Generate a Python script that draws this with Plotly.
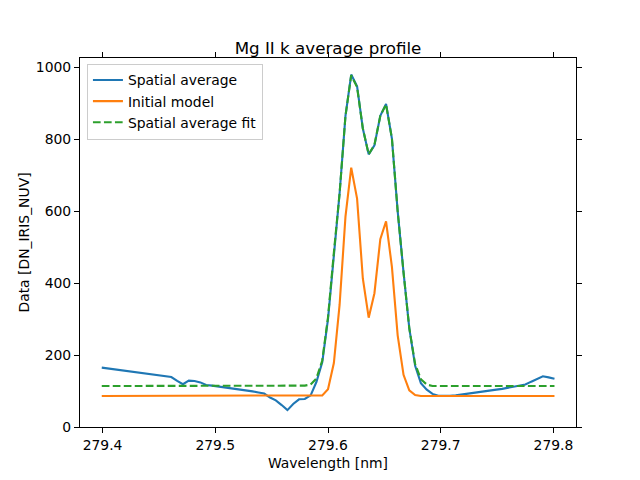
import plotly.graph_objects as go

wavelength = [
    279.3993, 279.4044, 279.4096, 279.4147, 279.4199, 279.4250, 279.4301, 279.4353,
    279.4404, 279.4456, 279.4507, 279.4559, 279.4610, 279.4662, 279.4713, 279.4765,
    279.4816, 279.4868, 279.4919, 279.4971, 279.5022, 279.5074, 279.5125, 279.5177,
    279.5228, 279.5280, 279.5331, 279.5383, 279.5434, 279.5486, 279.5537, 279.5589,
    279.5640, 279.5691, 279.5743, 279.5794, 279.5846, 279.5897, 279.5949, 279.6000,
    279.6052, 279.6103, 279.6155, 279.6206, 279.6258, 279.6309, 279.6361, 279.6412,
    279.6464, 279.6515, 279.6567, 279.6618, 279.6670, 279.6721, 279.6773, 279.6824,
    279.6876, 279.6927, 279.6979, 279.7030, 279.7082, 279.7133, 279.7185, 279.7236,
    279.7288, 279.7339, 279.7391, 279.7442, 279.7494, 279.7545, 279.7597, 279.7648,
    279.7700, 279.7751, 279.7803, 279.7854, 279.7906, 279.7957, 279.8009,
]

spatial_average = [
    165, 163, 161, 159, 157, 155, 153, 151,
    148, 146, 144, 141, 139, 128, 119, 129,
    128, 124, 117, 115, 113, 111, 109, 107,
    104, 102, 99, 96, 93, 82, 74, 61,
    47, 64, 77, 78, 88, 125, 180, 300,
    480, 650, 865, 980, 947, 830, 758, 783,
    865, 898, 802, 600, 430, 275, 170, 122,
    104, 92, 87, 86, 87, 88, 90, 92,
    95, 97, 99, 102, 104, 106, 109, 112,
    114, 118, 126, 134, 141, 138, 134,
]

initial_model = [
    86, 86, 86, 86, 86, 86, 86, 86,
    86, 86, 86, 86, 86, 86, 86, 86,
    86, 86, 86, 86, 86, 86, 86, 86,
    86, 86, 86, 86, 86, 86, 86, 86,
    86, 86, 86, 86, 86, 86, 88, 105,
    178, 340, 585, 721, 635, 413, 304, 372,
    522, 572, 445, 255, 145, 102, 89, 86,
    86, 86, 86, 86, 86, 86, 86, 86,
    86, 86, 86, 86, 86, 86, 86, 86,
    86, 86, 86, 86, 86, 86, 86,
]

spatial_average_fit = [
    114, 114, 114, 114, 114, 114, 114, 114,
    114, 114, 114, 114, 114, 114, 114, 114,
    114, 114, 114, 114, 114, 114, 114, 114,
    114, 114, 114, 114, 114, 114, 114, 114,
    114, 114, 114, 115, 118, 135, 185, 305,
    485, 650, 865, 978, 945, 830, 758, 785,
    865, 897, 802, 600, 430, 275, 175, 133,
    118, 114, 114, 114, 114, 114, 114, 114,
    114, 114, 114, 114, 114, 114, 114, 114,
    114, 114, 114, 114, 114, 114, 114,
]

x_ticks = [279.4, 279.5, 279.6, 279.7, 279.8]
y_ticks = [0, 200, 400, 600, 800, 1000]

FONT = "DejaVu Sans"

fig = go.Figure()
fig.add_trace(go.Scatter(x=wavelength, y=spatial_average, mode="lines",
                         name="Spatial average",
                         line=dict(color="#1f77b4", width=2.1)))
fig.add_trace(go.Scatter(x=wavelength, y=initial_model, mode="lines",
                         name="Initial model",
                         line=dict(color="#ff7f0e", width=2.1)))
fig.add_trace(go.Scatter(x=wavelength, y=spatial_average_fit, mode="lines",
                         name="Spatial average fit",
                         line=dict(color="#2ca02c", width=2.1, dash="7.7px,3.3px")))

axis_common = dict(
    showline=True, linecolor="black", linewidth=1.1, mirror="ticks",
    ticks="outside", ticklen=5, tickwidth=1.1, tickcolor="black",
    showgrid=False, zeroline=False,
    tickfont=dict(family=FONT, size=13.9, color="black"),
)

fig.update_layout(
    width=640, height=480,
    margin=dict(l=80, r=64, t=57.6, b=52.8),
    paper_bgcolor="white", plot_bgcolor="white",
    font=dict(family=FONT, size=13.9, color="black"),
    title=dict(text="Mg II k average profile", x=0.5, xanchor="center",
               xref="paper", yref="container", y=1 - 54 / 480, yanchor="bottom",
               font=dict(family=FONT, size=16.7, color="black")),
    xaxis=dict(range=[279.38, 279.82], tickvals=x_ticks,
               ticktext=[f"{v:.1f}" for v in x_ticks],
               title=dict(text="Wavelength [nm]", standoff=6,
                          font=dict(family=FONT, size=13.9)),
               **axis_common),
    yaxis=dict(range=[0, 1026], tickvals=y_ticks,
               ticktext=[str(v) for v in y_ticks],
               title=dict(text="Data [DN_IRIS_NUV]", standoff=2,
                          font=dict(family=FONT, size=13.9)),
               **axis_common),
    legend=dict(x=0.014, y=0.985, xanchor="left", yanchor="top",
                bgcolor="rgba(255,255,255,0.8)", bordercolor="#cccccc",
                borderwidth=1, font=dict(family=FONT, size=13.9),
                tracegroupgap=0, itemwidth=30),
    showlegend=True,
)

fig.write_html("out.html")
